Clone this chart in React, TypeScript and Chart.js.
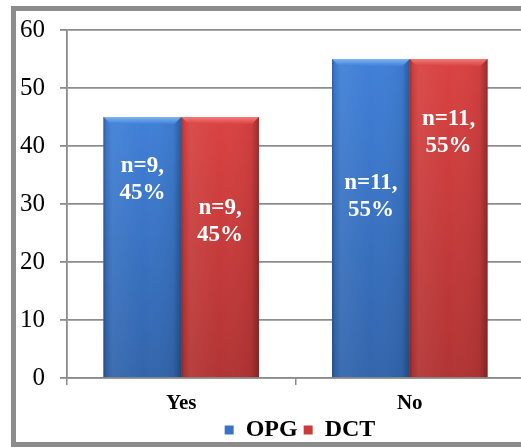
import React, { useEffect, useRef } from "react";
import { Chart, registerables } from "chart.js";

Chart.register(...registerables);

// ---- data ----
const categories = ["Yes", "No"];
const seriesNames = ["OPG", "DCT"];
const opgValues = [45, 55];
const dctValues = [45, 55];
const opgCounts = [9, 11];
const dctCounts = [9, 11];
const yMin = 0;
const yMax = 60;
const yStep = 10;

// ---- styling ----
const FONT = "'Liberation Serif', 'Times New Roman', serif";
const palettes = [
  { base: "#3A74C8", top: "#4080D8", bottom: "#3265AC", bevel: "#7DB5F3" },
  { base: "#CA3A3A", top: "#DA4242", bottom: "#B23434", bevel: "#F47A7A" },
];
// vertical anchor of each bar label (fraction of the bar height, from the base)
const labelAnchor = [
  [0.76, 0.57],
  [0.6, 0.77],
];
const counts = [opgCounts, dctCounts];

const barStylePlugin = {
  id: "barStyle",
  afterDatasetsDraw(chart: any) {
    const ctx = chart.ctx;
    chart.data.datasets.forEach((ds: any, di: number) => {
      const meta = chart.getDatasetMeta(di);
      const p = palettes[di];
      meta.data.forEach((bar: any, i: number) => {
        const { x, y, base, width } = bar.getProps(["x", "y", "base", "width"], true);
        const left = x - width / 2;
        const right = x + width / 2;
        const h = base - y;
        ctx.save();
        const g = ctx.createLinearGradient(0, y, 0, base);
        g.addColorStop(0, p.top);
        g.addColorStop(1, p.bottom);
        ctx.fillStyle = g;
        ctx.fillRect(left, y, width, h);
        const hg = ctx.createLinearGradient(left, 0, right, 0);
        hg.addColorStop(0, "rgba(0,0,0,0.28)");
        hg.addColorStop(0.03, "rgba(0,0,0,0.08)");
        hg.addColorStop(0.12, "rgba(255,255,255,0.06)");
        hg.addColorStop(0.5, "rgba(255,255,255,0)");
        hg.addColorStop(0.9, "rgba(0,0,0,0.05)");
        hg.addColorStop(1, "rgba(0,0,0,0.3)");
        ctx.fillStyle = hg;
        ctx.fillRect(left, y, width, h);
        // top bevel
        const b = 7;
        ctx.beginPath();
        ctx.moveTo(left, y);
        ctx.lineTo(right, y);
        ctx.lineTo(right - b, y + b);
        ctx.lineTo(left + b, y + b);
        ctx.closePath();
        const bg = ctx.createLinearGradient(0, y, 0, y + b);
        bg.addColorStop(0, p.bevel);
        bg.addColorStop(1, p.top);
        ctx.fillStyle = bg;
        ctx.fill();
        // label
        const val = ds.data[i];
        const ly = base - h * labelAnchor[di][i];
        ctx.fillStyle = "#ffffff";
        ctx.font = `bold 23px ${FONT}`;
        ctx.textAlign = "center";
        ctx.textBaseline = "middle";
        ctx.fillText(`n=${counts[di][i]},`, x, ly - 13);
        ctx.fillText(`${val}%`, x, ly + 14);
        ctx.restore();
      });
    });
  },
};

const legendShiftPlugin = {
  id: "legendShift",
  afterLayout(chart: any) {
    const lg = chart.legend;
    if (lg) {
      lg.left += 38;
      lg.right += 38;
    }
  },
};

export default function App() {
  const ref = useRef<HTMLCanvasElement | null>(null);
  useEffect(() => {
    if (!ref.current) return;
    const chart = new Chart(ref.current, {
      type: "bar",
      data: {
        labels: categories,
        datasets: [
          { label: seriesNames[0], data: opgValues, backgroundColor: palettes[0].base, borderWidth: 0 },
          { label: seriesNames[1], data: dctValues, backgroundColor: palettes[1].base, borderWidth: 0 },
        ],
      },
      options: {
        responsive: false,
        animation: false,
        devicePixelRatio: 1,
        layout: { padding: { top: 29, left: 0, right: 0, bottom: 0 } },
        datasets: { bar: { categoryPercentage: 0.68, barPercentage: 1 } },
        plugins: {
          tooltip: { enabled: false },
          legend: {
            position: "bottom",
            labels: {
              boxWidth: 9,
              boxHeight: 9,
              padding: 6,
              color: "#000",
              font: { family: FONT, size: 24, weight: "bold" },
            },
          },
        },
        scales: {
          x: {
            grid: {
              offset: true,
              drawOnChartArea: false,
              drawTicks: true,
              tickLength: 7,
              color: "#8a8a8a",
              lineWidth: 1.5,
            },
            border: { display: true, color: "#8a8a8a", width: 1.5 },
            ticks: { color: "#000", padding: 6, font: { family: FONT, size: 21, weight: "bold" } },
            afterFit(scale: any) {
              scale.height = 34;
            },
          },
          y: {
            min: yMin,
            max: yMax,
            ticks: { stepSize: yStep, color: "#000", padding: 15, font: { family: FONT, size: 25 } },
            grid: { color: "#8c8c8c", lineWidth: 1.8, tickLength: 7 },
            border: { display: true, color: "#8a8a8a", width: 1.8 },
            afterFit(scale: any) {
              scale.width = 67;
            },
          },
        },
      },
      plugins: [barStylePlugin, legendShiftPlugin],
    });
    return () => chart.destroy();
  }, []);

  return (
    <div
      style={{
        position: "fixed",
        left: 0,
        top: 0,
        width: 521,
        height: 447,
        overflow: "hidden",
        background: "#fff",
      }}
    >
      <div
        style={{
          position: "absolute",
          left: 11,
          top: 6,
          width: 640,
          height: 441,
          boxSizing: "border-box",
          border: "5px solid #8c8c8c",
        }}
      />
      <canvas
        ref={ref}
        width={524}
        height={452}
        style={{ position: "absolute", left: 0, top: 0, width: 524, height: 452 }}
      />
    </div>
  );
}
